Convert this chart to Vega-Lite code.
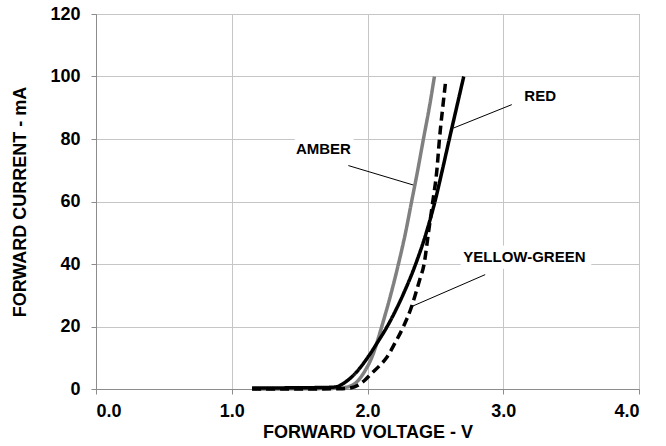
{
  "$schema": "https://vega.github.io/schema/vega-lite/v6.json",
  "autosize": {"type": "none"},
  "width": 543,
  "height": 375,
  "padding": {"left": 96, "top": 14, "right": 27, "bottom": 57},
  "background": "white",
  "config": {
    "view": {"stroke": "#8c8c8c", "strokeWidth": 1},
    "font": "Liberation Sans",
    "axis": {
      "labelFont": "Liberation Sans",
      "labelFontWeight": "bold",
      "labelFontSize": 18,
      "labelColor": "#000000",
      "titleFont": "Liberation Sans",
      "titleFontWeight": "bold",
      "titleFontSize": 18,
      "titleColor": "#000000",
      "domainColor": "#8c8c8c",
      "tickColor": "#8c8c8c",
      "tickSize": 5,
      "gridColor": "#c6c6c6",
      "gridWidth": 1
    }
  },
  "datasets": {
    "curves": [
      {"led": "AMBER", "v": 1.15, "i": 0.0},
      {"led": "AMBER", "v": 1.4, "i": 0.05},
      {"led": "AMBER", "v": 1.6, "i": 0.1},
      {"led": "AMBER", "v": 1.75, "i": 0.2},
      {"led": "AMBER", "v": 1.82, "i": 0.4},
      {"led": "AMBER", "v": 1.87, "i": 0.9},
      {"led": "AMBER", "v": 1.92, "i": 2.2},
      {"led": "AMBER", "v": 1.97, "i": 5},
      {"led": "AMBER", "v": 2.04, "i": 11},
      {"led": "AMBER", "v": 2.105, "i": 20},
      {"led": "AMBER", "v": 2.17, "i": 30},
      {"led": "AMBER", "v": 2.228, "i": 40},
      {"led": "AMBER", "v": 2.28, "i": 50},
      {"led": "AMBER", "v": 2.325, "i": 60},
      {"led": "AMBER", "v": 2.37, "i": 70},
      {"led": "AMBER", "v": 2.412, "i": 80},
      {"led": "AMBER", "v": 2.455, "i": 90},
      {"led": "AMBER", "v": 2.493, "i": 100},
      {"led": "RED", "v": 1.15, "i": 0.3},
      {"led": "RED", "v": 1.5, "i": 0.4},
      {"led": "RED", "v": 1.7, "i": 0.5},
      {"led": "RED", "v": 1.77, "i": 0.7},
      {"led": "RED", "v": 1.83, "i": 2},
      {"led": "RED", "v": 1.91, "i": 5},
      {"led": "RED", "v": 2.0, "i": 10},
      {"led": "RED", "v": 2.075, "i": 15},
      {"led": "RED", "v": 2.145, "i": 20},
      {"led": "RED", "v": 2.26, "i": 30},
      {"led": "RED", "v": 2.355, "i": 40},
      {"led": "RED", "v": 2.433, "i": 50},
      {"led": "RED", "v": 2.497, "i": 60},
      {"led": "RED", "v": 2.551, "i": 70},
      {"led": "RED", "v": 2.603, "i": 80},
      {"led": "RED", "v": 2.656, "i": 90},
      {"led": "RED", "v": 2.709, "i": 100},
      {"led": "YELLOW-GREEN", "v": 1.15, "i": 0},
      {"led": "YELLOW-GREEN", "v": 1.5, "i": 0},
      {"led": "YELLOW-GREEN", "v": 1.8, "i": 0.1},
      {"led": "YELLOW-GREEN", "v": 1.88, "i": 0.4},
      {"led": "YELLOW-GREEN", "v": 1.93, "i": 1.2},
      {"led": "YELLOW-GREEN", "v": 1.98, "i": 2.8},
      {"led": "YELLOW-GREEN", "v": 2.03, "i": 5},
      {"led": "YELLOW-GREEN", "v": 2.09, "i": 7.5},
      {"led": "YELLOW-GREEN", "v": 2.14, "i": 10},
      {"led": "YELLOW-GREEN", "v": 2.2, "i": 14.5},
      {"led": "YELLOW-GREEN", "v": 2.265, "i": 20},
      {"led": "YELLOW-GREEN", "v": 2.325, "i": 26.4},
      {"led": "YELLOW-GREEN", "v": 2.351, "i": 30},
      {"led": "YELLOW-GREEN", "v": 2.385, "i": 35},
      {"led": "YELLOW-GREEN", "v": 2.417, "i": 40},
      {"led": "YELLOW-GREEN", "v": 2.449, "i": 50},
      {"led": "YELLOW-GREEN", "v": 2.481, "i": 60},
      {"led": "YELLOW-GREEN", "v": 2.511, "i": 70},
      {"led": "YELLOW-GREEN", "v": 2.53, "i": 80},
      {"led": "YELLOW-GREEN", "v": 2.554, "i": 90},
      {"led": "YELLOW-GREEN", "v": 2.577, "i": 99}
    ],
    "leaders": [
      {"led": "AMBER", "v": 1.859, "i": 71.5, "v2": 2.351, "i2": 65.1},
      {"led": "RED", "v": 3.063, "i": 91.0, "v2": 2.633, "i2": 83.5},
      {"led": "YELLOW-GREEN", "v": 2.867, "i": 36.6, "v2": 2.326, "i2": 26.4}
    ],
    "labels": [
      {"led": "AMBER", "v": 1.675, "i": 76.8},
      {"led": "RED", "v": 3.272, "i": 93.9},
      {"led": "YELLOW-GREEN", "v": 3.156, "i": 42.1}
    ]
  },
  "layer": [
    {
      "data": {"name": "labels"},
      "mark": {"type": "text", "font": "Liberation Sans", "fontWeight": "bold", "fontSize": 15, "align": "center", "baseline": "middle", "color": "white", "stroke": "white", "strokeWidth": 14, "strokeJoin": "round"},
      "encoding": {
        "x": {"field": "v", "type": "quantitative", "scale": {"domain": [0, 4], "nice": false, "zero": false}},
        "y": {"field": "i", "type": "quantitative", "scale": {"domain": [0, 120], "nice": false}},
        "text": {"field": "led"}
      }
    },
    {
      "data": {"name": "leaders"},
      "mark": {"type": "rule", "color": "black", "strokeWidth": 1},
      "encoding": {
        "x": {"field": "v", "type": "quantitative"},
        "y": {"field": "i", "type": "quantitative"},
        "x2": {"field": "v2"},
        "y2": {"field": "i2"}
      }
    },
    {
      "data": {"name": "curves"},
      "mark": {"type": "line", "interpolate": "monotone", "strokeWidth": 3.5, "strokeCap": "butt"},
      "encoding": {
        "x": {
          "field": "v", "type": "quantitative",
          "scale": {"domain": [0, 4], "nice": false, "zero": false},
          "axis": {"values": [0, 1, 2, 3, 4], "format": ".1f", "title": "FORWARD VOLTAGE - V", "labelPadding": 8, "titlePadding": 3}
        },
        "y": {
          "field": "i", "type": "quantitative",
          "scale": {"domain": [0, 120], "nice": false},
          "axis": {"values": [0, 20, 40, 60, 80, 100, 120], "title": "FORWARD CURRENT - mA", "labelPadding": 11, "titlePadding": 20}
        },
        "detail": {"field": "led"},
        "color": {
          "field": "led", "type": "nominal", "legend": null,
          "scale": {"domain": ["AMBER", "RED", "YELLOW-GREEN"], "range": ["#808080", "#000000", "#000000"]}
        },
        "strokeDash": {
          "field": "led", "type": "nominal", "legend": null,
          "scale": {"domain": ["AMBER", "RED", "YELLOW-GREEN"], "range": [[1, 0], [1, 0], [9, 5]]}
        }
      }
    },
    {
      "data": {"name": "labels"},
      "mark": {"type": "text", "font": "Liberation Sans", "fontWeight": "bold", "fontSize": 15, "align": "center", "baseline": "middle", "color": "black"},
      "encoding": {
        "x": {"field": "v", "type": "quantitative"},
        "y": {"field": "i", "type": "quantitative"},
        "text": {"field": "led"}
      }
    }
  ]
}
